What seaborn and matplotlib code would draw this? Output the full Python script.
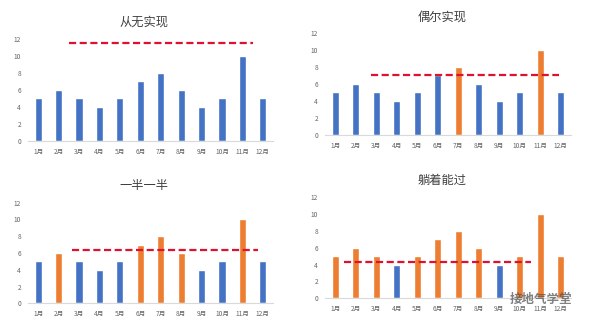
import matplotlib
matplotlib.use("Agg")
import matplotlib.pyplot as plt
import seaborn as sns
import pandas as pd

months = ["1月", "2月", "3月", "4月", "5月", "6月", "7月", "8月", "9月", "10月", "11月", "12月"]
values = [5, 6, 5, 4, 5, 7, 8, 6, 4, 5, 10, 5]

titles = ["从无实现", "偶尔实现", "一半一半", "躺着能过"]
targets = [11.5, 7.0, 6.4, 4.3]
highlight_min = [99, 7.5, 5.5, 4.5]   # bars at or above this are orange
target_start = [1.5, 1.75, 1.65, 0.45]
target_end = [10.5, 10.9, 10.75, 9.55]

BLUE = "#4472C4"
ORANGE = "#ED7D31"

sns.set_theme(style="white")
plt.rcParams['font.family'] = ['Noto Sans CJK SC', 'DejaVu Sans']

fig = plt.figure(figsize=(5.91, 3.33), dpi=100)

rects = [
    [0.0474, 0.5766, 0.4146, 0.3064],
    [0.5499, 0.5946, 0.4163, 0.3063],
    [0.0474, 0.0892, 0.4146, 0.3021],
    [0.5499, 0.1042, 0.4163, 0.3042],
]
title_pos = [(144, 22), (442, 17), (144, 186), (442, 180)]

for i in range(4):
    ax = fig.add_axes(rects[i])
    grp = ["达标" if v >= highlight_min[i] else "未达标" for v in values]
    df = pd.DataFrame({"月份": months, "值": values, "组": grp})
    sns.barplot(data=df, x="月份", y="值", hue="组", order=months,
                palette={"达标": ORANGE, "未达标": BLUE}, dodge=False,
                width=0.35, legend=False, ax=ax, saturation=1)
    ax.hlines(targets[i], target_start[i], target_end[i], colors="#E0102F",
              linestyles=(0, (3.2, 1.6)), linewidth=1.6, zorder=5)
    ax.set_xlim(-0.5, 11.5)
    ax.set_ylim(0, 12)
    ax.set_yticks([0, 2, 4, 6, 8, 10, 12])
    ax.set_xlabel("")
    ax.set_ylabel("")
    for s in ["top", "right", "left"]:
        ax.spines[s].set_visible(False)
    ax.spines["bottom"].set_color("#D9D9D9")
    ax.spines["bottom"].set_linewidth(0.8)
    ax.tick_params(axis="both", length=0, labelsize=4.8, colors="#666666")
    ax.tick_params(axis="x", pad=5)
    ax.tick_params(axis="y", pad=5)
    tx, ty = title_pos[i]
    fig.text(tx / 591, 1 - ty / 333, titles[i], ha="center", va="center",
             fontsize=8.8, color="#404040")

fig.text(572 / 591, 1 - 299 / 333, "接地气学堂", ha="right", va="center",
         fontsize=9, color="#555555", alpha=0.75, fontweight="bold")

fig.savefig("out.png", dpi=100, facecolor="white")
